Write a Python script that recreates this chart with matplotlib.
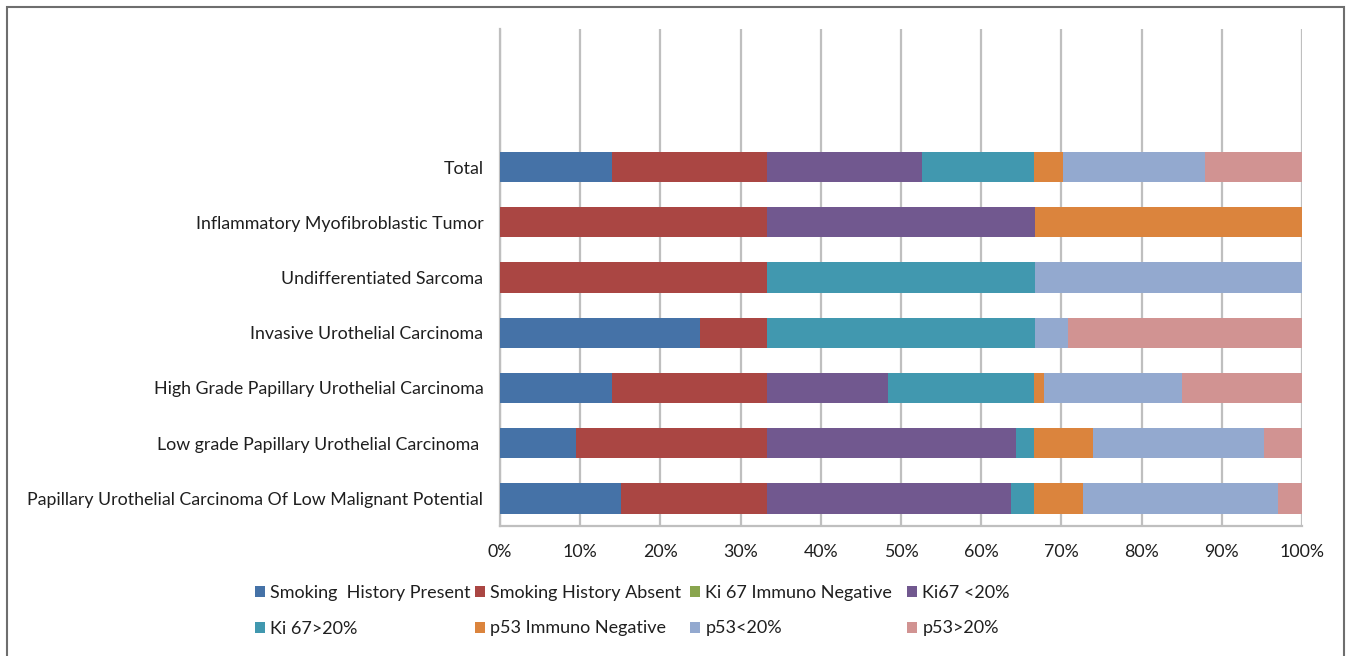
import matplotlib.pyplot as plt
from matplotlib.patches import Rectangle

plt.rcParams['font.family'] = ['Lato', 'DejaVu Sans']

# tumour groups, bottom to top
categories = [
    'Papillary Urothelial Carcinoma Of Low Malignant Potential',
    'Low grade Papillary Urothelial Carcinoma ',
    'High Grade Papillary Urothelial Carcinoma',
    'Invasive Urothelial Carcinoma',
    'Undifferentiated Sarcoma',
    'Inflammatory Myofibroblastic Tumor',
    'Total',
]

# share of each bar (%), same order as categories
smoking_present = [15.1, 9.5, 14.0, 24.9, 0.0, 0.0, 14.0]
smoking_absent = [18.2, 23.8, 19.3, 8.4, 33.3, 33.3, 19.3]
ki67_negative = [0.0, 0.0, 0.0, 0.0, 0.0, 0.0, 0.0]
ki67_low = [30.4, 31.0, 15.1, 0.0, 0.0, 33.4, 19.3]
ki67_high = [2.9, 2.3, 18.2, 33.4, 33.4, 0.0, 14.0]
p53_negative = [6.1, 7.3, 1.2, 0.0, 0.0, 33.3, 3.6]
p53_low = [24.3, 21.4, 17.2, 4.1, 33.3, 0.0, 17.7]
p53_high = [3.0, 4.7, 15.0, 29.2, 0.0, 0.0, 12.1]

series = [
    ('Smoking  History Present', smoking_present, '#4572A7'),
    ('Smoking History Absent', smoking_absent, '#AA4643'),
    ('Ki 67 Immuno Negative', ki67_negative, '#89A54E'),
    ('Ki67 <20%', ki67_low, '#71588F'),
    ('Ki 67>20%', ki67_high, '#4198AF'),
    ('p53 Immuno Negative', p53_negative, '#DB843D'),
    ('p53<20%', p53_low, '#93A9CF'),
    ('p53>20%', p53_high, '#D19392'),
]

txt = '#1F1F1F'
grid = '#BFBFBF'

fig = plt.figure(figsize=(13.46, 6.56), dpi=100)
ax = fig.add_axes([500/1346, 1 - 526/656, 802/1346, 497/656])

ypos = list(range(len(categories)))
left = [0.0] * len(categories)
handles = []
for name, vals, col in series:
    b = ax.barh(ypos, vals, left=left, height=0.55, color=col,
                linewidth=0, label=name, zorder=3)
    handles.append(b)
    left = [l + v for l, v in zip(left, vals)]

ax.set_xlim(0, 100)
ax.set_ylim(-0.5, 8.5)
ax.set_xticks(range(0, 101, 10))
ax.set_xticklabels([f'{t}%' for t in range(0, 101, 10)])
ax.set_yticks(ypos)
ax.set_yticklabels(categories)
ax.tick_params(axis='both', length=0, labelsize=12.8, colors=txt)
ax.tick_params(axis='x', pad=13)
ax.tick_params(axis='y', pad=12)
ax.xaxis.grid(True, color=grid, linewidth=1.6, zorder=0)
for s in ['top', 'right']:
    ax.spines[s].set_visible(False)
for s in ['left', 'bottom']:
    ax.spines[s].set_color(grid)
    ax.spines[s].set_linewidth(1.6)

# legend: four columns of two entries, each column placed on its own
col_left = [255, 475, 690, 907]
for c, x in enumerate(col_left):
    idx = [c, c + 4]
    fig.legend([handles[i] for i in idx], [series[i][0] for i in idx],
               loc='upper left', bbox_to_anchor=(x/1346, 1 - 585/656),
               frameon=False, fontsize=13, labelcolor=txt,
               handlelength=0.55, handleheight=0.55, handletextpad=0.3,
               labelspacing=1.08, borderaxespad=0, borderpad=0)

# outer frame
fig.patches.append(Rectangle((7/1346, -0.05), 1337/1346, 1 - 7/656 + 0.05,
                             transform=fig.transFigure, fill=False,
                             edgecolor='#6E6E6E', linewidth=1.5))

fig.savefig('out.png', dpi=100)
